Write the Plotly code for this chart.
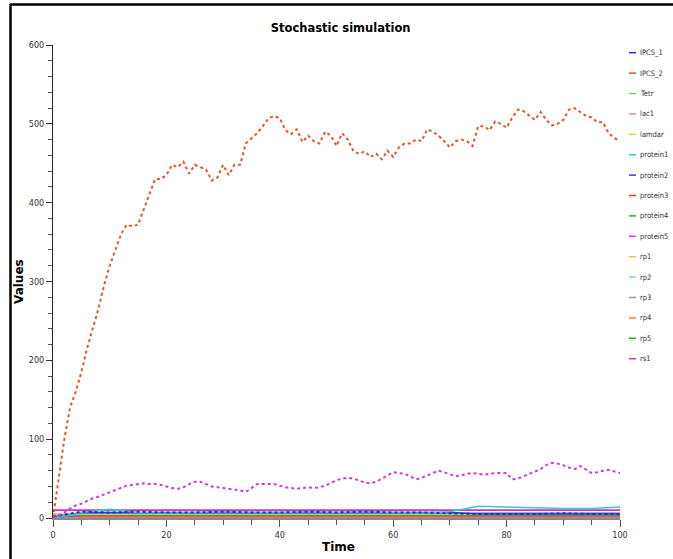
import plotly.graph_objects as go

# --- datos ---
time_fine = list(range(0, 101))          # 0..100, paso 1
time_coarse = list(range(0, 101, 5))     # 0..100, paso 5

ipcs_2 = [0, 50, 100, 140, 160, 185, 215, 240, 265, 295,
          320, 340, 360, 372, 370, 372, 392, 410, 430, 430,
          435, 448, 445, 452, 437, 448, 445, 442, 428, 432,
          448, 435, 448, 448, 475, 482, 488, 497, 507, 510,
          507, 492, 487, 493, 477, 485, 478, 475, 490, 485,
          472, 488, 480, 465, 462, 465, 458, 462, 455, 466,
          458, 470, 475, 475, 480, 478, 493, 490, 485, 478,
          470, 478, 480, 478, 472, 497, 497, 492, 503, 500,
          495, 508, 518, 516, 510, 505, 515, 505, 498, 500,
          505, 518, 520, 515, 510, 508, 502, 502, 488, 482, 478]

protein5 = [0, 3, 7, 12, 16, 18, 22, 25, 27, 30,
            33, 36, 39, 41, 42, 43, 44, 43, 43, 42,
            40, 38, 37, 39, 43, 46, 46, 43, 40, 39,
            38, 37, 36, 35, 33, 38, 43, 43, 43, 43,
            41, 39, 38, 37, 38, 39, 38, 39, 41, 45,
            48, 50, 51, 50, 47, 45, 44, 46, 50, 54,
            58, 57, 56, 53, 49, 51, 54, 57, 60, 58,
            55, 53, 54, 56, 57, 56, 55, 56, 57, 57,
            57, 49, 50, 53, 56, 58, 62, 67, 70, 69,
            67, 64, 62, 66, 62, 57, 58, 60, 61, 59, 57]

# series casi constantes (paso 5)
ipcs_1   = [2, 8, 7, 8, 7, 7, 8, 7, 7, 8, 7, 8, 7, 7, 6, 5, 5, 5, 6, 5, 5]
tetr     = [1, 6, 6, 6, 6, 6, 6, 6, 6, 6, 6, 6, 6, 6, 6, 6, 6, 6, 6, 6, 6]
lac1     = [1, 1, 1, 1, 1, 1, 1, 1, 1, 1, 1, 1, 1, 1, 1, 1, 1, 1, 1, 1, 1]
lamdar   = [3, 5, 5, 5, 5, 5, 5, 5, 5, 5, 5, 5, 5, 5, 5, 5, 5, 5, 5, 5, 5]
protein1 = [0, 7, 11, 7, 6, 7, 8, 7, 7, 8, 7, 8, 7, 6, 8, 15, 14, 13, 12, 12, 14]
protein2 = [1, 7, 7, 7, 7, 7, 7, 7, 7, 7, 7, 7, 7, 7, 7, 5, 5, 5, 5, 5, 5]
protein3 = [2, 2, 2, 2, 2, 2, 2, 2, 2, 2, 2, 2, 2, 2, 2, 2, 2, 2, 2, 2, 2]
protein4 = [1, 4, 4, 4, 4, 4, 4, 4, 4, 4, 4, 4, 4, 4, 4, 4, 4, 4, 4, 4, 4]
rp1      = [4, 5, 5, 5, 5, 5, 5, 5, 5, 5, 5, 5, 5, 5, 5, 5, 5, 5, 5, 5, 5]
rp2      = [2, 6, 6, 6, 6, 6, 6, 6, 6, 6, 6, 6, 6, 6, 6, 6, 6, 6, 6, 6, 6]
rp3      = [2, 6, 6, 6, 6, 6, 6, 6, 6, 6, 6, 6, 6, 6, 6, 6, 6, 6, 6, 6, 6]
rp4      = [5, 3, 3, 3, 3, 3, 3, 3, 3, 3, 3, 3, 3, 3, 3, 3, 3, 3, 3, 3, 3]
rp5      = [1, 4, 4, 4, 4, 4, 4, 4, 4, 4, 4, 4, 4, 4, 4, 4, 4, 4, 4, 4, 4]
rs1      = [10, 10, 10, 10, 10, 10, 10, 10, 10, 10, 10, 10, 10, 10, 10, 10, 10, 10, 10, 10, 10]

names = ["IPCS_1", "IPCS_2", "Tetr", "lac1", "lamdar", "protein1", "protein2", "protein3",
         "protein4", "protein5", "rp1", "rp2", "rp3", "rp4", "rp5", "rs1"]

# --- estilos ---
series = {
    "IPCS_1":   (time_coarse, ipcs_1,   "#2b2bd9", "dot"),
    "IPCS_2":   (time_fine,   ipcs_2,   "#e2572c", "dot"),
    "Tetr":     (time_coarse, tetr,     "#7fcf7f", "solid"),
    "lac1":     (time_coarse, lac1,     "#e07fd8", "solid"),
    "lamdar":   (time_coarse, lamdar,   "#e8d24a", "solid"),
    "protein1": (time_coarse, protein1, "#3cc8c8", "solid"),
    "protein2": (time_coarse, protein2, "#3a3ac4", "solid"),
    "protein3": (time_coarse, protein3, "#c8452a", "solid"),
    "protein4": (time_coarse, protein4, "#2fae3a", "solid"),
    "protein5": (time_fine,   protein5, "#d23ad2", "dot"),
    "rp1":      (time_coarse, rp1,      "#e6c63a", "solid"),
    "rp2":      (time_coarse, rp2,      "#7fdada", "solid"),
    "rp3":      (time_coarse, rp3,      "#8f8fea", "solid"),
    "rp4":      (time_coarse, rp4,      "#f0804e", "solid"),
    "rp5":      (time_coarse, rp5,      "#23a823", "solid"),
    "rs1":      (time_coarse, rs1,      "#cc33cc", "solid"),
}

# orden de dibujo: las grandes encima
draw_order = ["lac1", "protein3", "rp4", "rp5", "protein4", "lamdar", "rp1", "Tetr",
              "rp2", "rp3", "protein2", "rs1", "protein1", "IPCS_1", "protein5", "IPCS_2"]

fig = go.Figure()
for n in draw_order:
    x, y, col, dash = series[n]
    fig.add_trace(go.Scatter(x=x, y=y, name=n, mode="lines",
                             line=dict(color=col, width=2 if dash == "dot" else 1.6, dash=dash),
                             showlegend=False))

W, H = 673, 559
L, R, T, B = 53, 53, 45, 41
pw, ph = W - L - R, H - T - B

def px(x):  # pixel -> paper x
    return (x - L) / pw

def py(y):  # pixel -> paper y
    return (H - B - y) / ph

# leyenda manual
for i, n in enumerate(names):
    yy = 52.7 + i * 20.4
    col = series[n][2]
    fig.add_shape(type="line", xref="paper", yref="paper",
                  x0=px(629), x1=px(636), y0=py(yy), y1=py(yy),
                  line=dict(color=col, width=1.5))
    fig.add_annotation(text=n, xref="paper", yref="paper", x=px(637.5), y=py(yy),
                       xanchor="left", yanchor="middle", showarrow=False,
                       font=dict(family="DejaVu Sans Condensed", size=7.5, color="#333333"))

# marco negro (arriba e izquierda)
fig.add_shape(type="line", xref="paper", yref="paper",
              x0=px(10), x1=px(673), y0=py(4.5), y1=py(4.5),
              line=dict(color="black", width=2.5))
fig.add_shape(type="line", xref="paper", yref="paper",
              x0=px(10.5), x1=px(10.5), y0=py(4), y1=py(559),
              line=dict(color="black", width=2.5))

# títulos de ejes
title_font = dict(family="DejaVu Sans", size=12, color="black")
fig.add_annotation(text="<b>Time</b>", xref="paper", yref="paper", x=px(338), y=py(547),
                   xanchor="center", yanchor="middle", showarrow=False, font=title_font)
fig.add_annotation(text="<b>Values</b>", xref="paper", yref="paper", x=px(19), y=py(282),
                   xanchor="center", yanchor="middle", showarrow=False, textangle=-90,
                   font=title_font)

axis_font = dict(family="DejaVu Sans Condensed", size=9, color="#333333")

fig.update_layout(
    width=W, height=H,
    margin=dict(l=L, r=R, t=T, b=B),
    paper_bgcolor="white", plot_bgcolor="white",
    title=dict(text="<b>Stochastic simulation</b>", x=px(340), xanchor="center",
               y=1 - 28 / H, yanchor="middle",
               font=dict(family="DejaVu Sans", size=11.5, color="black")),
    xaxis=dict(range=[0, 100], dtick=20, showgrid=False, zeroline=False, automargin=False,
               showline=True, linecolor="#8a8a8a", linewidth=2,
               ticks="outside", ticklen=7, tickcolor="#555555",
               minor=dict(dtick=5, ticks="outside", ticklen=5, tickcolor="#555555"),
               tickfont=axis_font),
    yaxis=dict(range=[0, 600], dtick=100, showgrid=False, zeroline=False, automargin=False,
               showline=True, linecolor="#222222", linewidth=1,
               ticks="outside", ticklen=6, tickcolor="#333333",
               minor=dict(dtick=20, ticks="outside", ticklen=4, tickcolor="#555555"),
               tickfont=axis_font),
    showlegend=False,
)

fig.write_html("out.html", config={"displayModeBar": False},
               post_script="document.body.style.margin='0';")
